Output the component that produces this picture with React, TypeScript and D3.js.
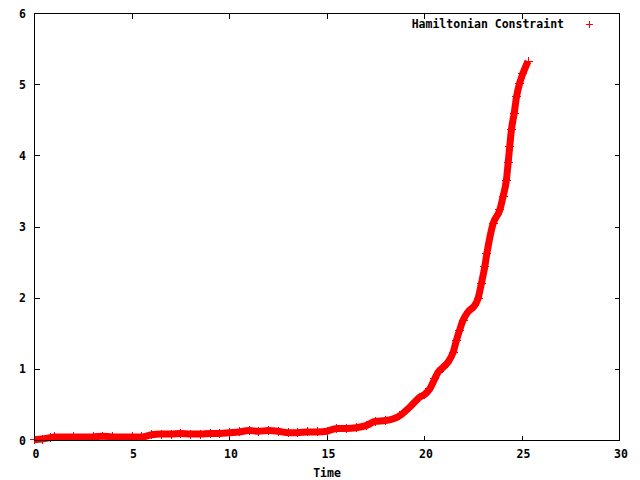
import React from 'react';
import * as d3 from 'd3';

// values
const times = [
  0, 0.4, 0.8, 1, 2, 3, 3.5, 4, 5, 5.5, 6, 6.5, 7, 7.5, 8, 8.5, 9, 9.5,
  10, 10.5, 11, 11.5, 12, 12.5, 13, 13.5, 14, 14.5, 15, 15.5, 16, 16.5,
  17, 17.5, 18, 18.74, 19.25, 19.76, 20.02, 20.28, 20.53, 20.7, 20.96,
  21.2, 21.47, 21.64, 21.8, 21.98, 22.24, 22.58, 22.75, 22.92, 23.09,
  23.2, 23.52, 23.86, 24.03, 24.2, 24.29, 24.37, 24.46, 24.6, 24.72,
  24.88, 25.05, 25.31,
];
const constraint = [
  0.01, 0.02, 0.04, 0.05, 0.05, 0.05, 0.06, 0.05, 0.05, 0.05, 0.08, 0.09,
  0.09, 0.1, 0.09, 0.09, 0.1, 0.1, 0.11, 0.12, 0.14, 0.13, 0.14, 0.13,
  0.11, 0.11, 0.12, 0.12, 0.13, 0.17, 0.17, 0.18, 0.21, 0.27, 0.28, 0.35,
  0.47, 0.61, 0.65, 0.73, 0.87, 0.96, 1.03, 1.1, 1.24, 1.41, 1.55, 1.69,
  1.81, 1.9, 2.0, 2.21, 2.44, 2.63, 3.05, 3.24, 3.43, 3.66, 3.9, 4.13,
  4.37, 4.6, 4.83, 5.02, 5.16, 5.33,
];
const xTicks = [0, 5, 10, 15, 20, 25, 30];
const yTicks = [0, 1, 2, 3, 4, 5, 6];
const seriesName = 'Hamiltonian Constraint';
const xLabel = 'Time';

const W = 640;
const H = 480;
const left = 34.5;
const right = 619.5;
const top = 13.5;
const bottom = 440.5;
const tick = 5;
const font = "'DejaVu Sans Mono', monospace";

export default function App() {
  const x = d3.scaleLinear().domain([0, 30]).range([left, right]);
  const y = d3.scaleLinear().domain([0, 6]).range([bottom, top]);

  const pts: [number, number][] = times.map((t, i) => [t, constraint[i]]);
  const line = d3
    .line<[number, number]>()
    .x((d) => x(d[0]))
    .y((d) => y(d[1]))
    .curve(d3.curveMonotoneX);

  const plus = (cx: number, cy: number, r: number) =>
    `M${cx - r},${cy}h${2 * r}M${cx},${cy - r}v${2 * r}`;

  return (
    <svg
      width={W}
      height={H}
      style={{ position: 'absolute', left: 0, top: 0, background: '#fff' }}
      fontFamily={font}
      fontWeight="bold"
      fontSize={11.5}
    >
      <rect width={W} height={H} fill="#fff" />

      {/* ticks, mirrored on all sides */}
      <g stroke="#000" strokeWidth={1} shapeRendering="crispEdges">
        {xTicks.map((t) => (
          <g key={'x' + t}>
            <line x1={x(t)} x2={x(t)} y1={bottom} y2={bottom - tick} />
            <line x1={x(t)} x2={x(t)} y1={top} y2={top + tick} />
          </g>
        ))}
        {yTicks.map((t) => (
          <g key={'y' + t}>
            <line x1={left} x2={left + tick} y1={y(t)} y2={y(t)} />
            <line x1={right} x2={right - tick} y1={y(t)} y2={y(t)} />
          </g>
        ))}
      </g>

      {/* tick labels */}
      {xTicks.map((t) => (
        <text key={'xl' + t} x={x(t) + 1.5} y={458} textAnchor="middle" fill="#000">
          {t}
        </text>
      ))}
      {yTicks.map((t) => (
        <text key={'yl' + t} x={26} y={y(t) + 4} textAnchor="end" fill="#000">
          {t}
        </text>
      ))}
      <text x={(left + right) / 2} y={477} textAnchor="middle" fill="#000">
        {xLabel}
      </text>

      {/* data */}
      <path d={line(pts) ?? ''} fill="none" stroke="#ff0000" strokeWidth={7} strokeLinejoin="round" />
      <path
        d={pts.map((d) => plus(x(d[0]), y(d[1]), 4.5)).join('')}
        fill="none"
        stroke="#ff0000"
        strokeWidth={1}
        shapeRendering="crispEdges"
      />

      {/* border */}
      <rect
        x={left}
        y={top}
        width={right - left}
        height={bottom - top}
        fill="none"
        stroke="#000"
        strokeWidth={1}
        shapeRendering="crispEdges"
      />

      {/* legend */}
      <text x={564} y={28} textAnchor="end" fill="#000">
        {seriesName}
      </text>
      <path d={plus(589.5, 24.5, 3.5)} stroke="#ff0000" strokeWidth={1} shapeRendering="crispEdges" />
    </svg>
  );
}
